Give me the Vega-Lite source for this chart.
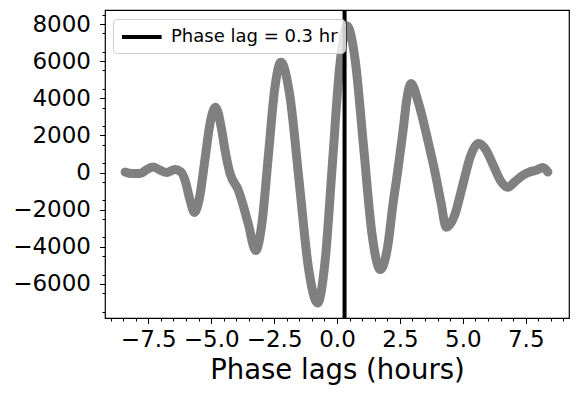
{
  "$schema": "https://vega.github.io/schema/vega-lite/v6.json",
  "width": 464,
  "height": 308,
  "autosize": {"type": "none"},
  "padding": {"left": 105, "top": 10, "right": 10, "bottom": 77},
  "background": "white",
  "config": {
    "font": "DejaVu Sans",
    "view": {"stroke": "black", "strokeWidth": 1.2},
    "axis": {"grid": false, "domain": false, "tickColor": "black", "tickWidth": 1, "labelColor": "black", "titleColor": "black", "labelFlush": false, "labelOverlap": false}
  },
  "datasets": {
    "ccf": [
      {"lag": -8.42, "ccf": 30}, {"lag": -8.16, "ccf": -55}, {"lag": -7.83, "ccf": -55},
      {"lag": -7.56, "ccf": 160}, {"lag": -7.30, "ccf": 300}, {"lag": -7.03, "ccf": 125},
      {"lag": -6.77, "ccf": 0}, {"lag": -6.44, "ccf": 160}, {"lag": -6.20, "ccf": 30},
      {"lag": -6.04, "ccf": -415}, {"lag": -5.84, "ccf": -1490}, {"lag": -5.67, "ccf": -2150},
      {"lag": -5.46, "ccf": -1320}, {"lag": -5.25, "ccf": 685}, {"lag": -5.04, "ccf": 2690},
      {"lag": -4.83, "ccf": 3520}, {"lag": -4.58, "ccf": 2280}, {"lag": -4.45, "ccf": 1200},
      {"lag": -4.25, "ccf": -55}, {"lag": -3.92, "ccf": -955}, {"lag": -3.79, "ccf": -1490},
      {"lag": -3.53, "ccf": -2750}, {"lag": -3.23, "ccf": -4200}, {"lag": -2.98, "ccf": -2700},
      {"lag": -2.73, "ccf": 875}, {"lag": -2.48, "ccf": 4460}, {"lag": -2.23, "ccf": 5950},
      {"lag": -1.865, "ccf": 4050}, {"lag": -1.50, "ccf": -540}, {"lag": -1.135, "ccf": -5130},
      {"lag": -0.77, "ccf": -7030}, {"lag": -0.4775, "ccf": -4840}, {"lag": -0.185, "ccf": 435},
      {"lag": 0.1075, "ccf": 5710}, {"lag": 0.40, "ccf": 7900}, {"lag": 0.73, "ccf": 5980},
      {"lag": 1.06, "ccf": 1335}, {"lag": 1.39, "ccf": -3310}, {"lag": 1.72, "ccf": -5230},
      {"lag": 2.03, "ccf": -3850}, {"lag": 2.22, "ccf": -1750}, {"lag": 2.42, "ccf": 145},
      {"lag": 2.62, "ccf": 2200}, {"lag": 2.78, "ccf": 4000}, {"lag": 2.94, "ccf": 4800},
      {"lag": 3.25, "ccf": 3700}, {"lag": 3.59, "ccf": 1850}, {"lag": 3.89, "ccf": 50},
      {"lag": 4.13, "ccf": -1600}, {"lag": 4.34, "ccf": -2950}, {"lag": 4.67, "ccf": -2320},
      {"lag": 4.99, "ccf": -710}, {"lag": 5.31, "ccf": 900}, {"lag": 5.63, "ccf": 1565},
      {"lag": 5.92, "ccf": 1220}, {"lag": 6.21, "ccf": 390}, {"lag": 6.50, "ccf": -440},
      {"lag": 6.79, "ccf": -790}, {"lag": 7.06, "ccf": -505}, {"lag": 7.39, "ccf": -145},
      {"lag": 7.65, "ccf": 30}, {"lag": 7.92, "ccf": 125}, {"lag": 8.18, "ccf": 270},
      {"lag": 8.38, "ccf": 30}
    ],
    "marker": [{"lag": 0.3, "label": "Phase lag = 0.3 hr"}]
  },
  "resolve": {"axis": {"x": "independent", "y": "independent"}},
  "layer": [
    {
      "data": {"name": "ccf"},
      "mark": {"type": "line", "color": "#808080", "strokeWidth": 9, "strokeCap": "round", "strokeJoin": "round", "interpolate": "monotone"},
      "encoding": {
        "x": {"field": "lag", "type": "quantitative", "scale": {"domain": [-9.22, 9.22], "nice": false, "zero": false},
          "axis": {"orient": "bottom", "values": [-7.5, -5, -2.5, 0, 2.5, 5, 7.5], "format": ".1f", "labelFontSize": 23, "tickSize": 5.5, "labelPadding": 5, "title": "Phase lags (hours)", "titleFontSize": 27.5, "titleFontWeight": "normal", "titlePadding": 4.5}},
        "y": {"field": "ccf", "type": "quantitative", "scale": {"domain": [-7840, 8760], "nice": false, "zero": false},
          "axis": {"orient": "left", "values": [-6000, -4000, -2000, 0, 2000, 4000, 6000, 8000], "format": "d", "labelFontSize": 23, "tickSize": 5.5, "labelPadding": 9, "title": null}}
      }
    },
    {
      "data": {"name": "ccf"},
      "mark": {"type": "point", "opacity": 0},
      "encoding": {
        "x": {"field": "lag", "type": "quantitative",
          "axis": {"orient": "bottom", "values": [-9, -8.5, -8, -7, -6.5, -6, -5.5, -4.5, -4, -3.5, -3, -2, -1.5, -1, -0.5, 0.5, 1, 1.5, 2, 3, 3.5, 4, 4.5, 5.5, 6, 6.5, 7, 8, 8.5, 9], "labels": false, "tickSize": 3, "title": null}},
        "y": {"field": "ccf", "type": "quantitative",
          "axis": {"orient": "left", "values": [-7500, -6500, -5500, -4500, -3500, -2500, -1500, -500, 500, 1500, 2500, 3500, 4500, 5500, 6500, 7500, 8500], "labels": false, "tickSize": 3, "title": null}}
      }
    },
    {
      "data": {"name": "marker"},
      "mark": {"type": "rule", "strokeWidth": 4},
      "encoding": {
        "x": {"field": "lag", "type": "quantitative", "axis": null},
        "color": {"field": "label", "type": "nominal", "scale": {"range": ["black"]},
          "legend": {"orient": "none", "legendX": 8, "legendY": 9, "title": null, "symbolType": "M-1,0H3.4", "symbolStrokeWidth": 4, "symbolSize": 324, "labelFontSize": 18, "labelLimit": 0, "labelColor": "black", "strokeColor": "#cccccc", "fillColor": "rgba(255,255,255,0.8)", "cornerRadius": 4, "padding": 7, "labelOffset": 29}}
      }
    }
  ]
}
